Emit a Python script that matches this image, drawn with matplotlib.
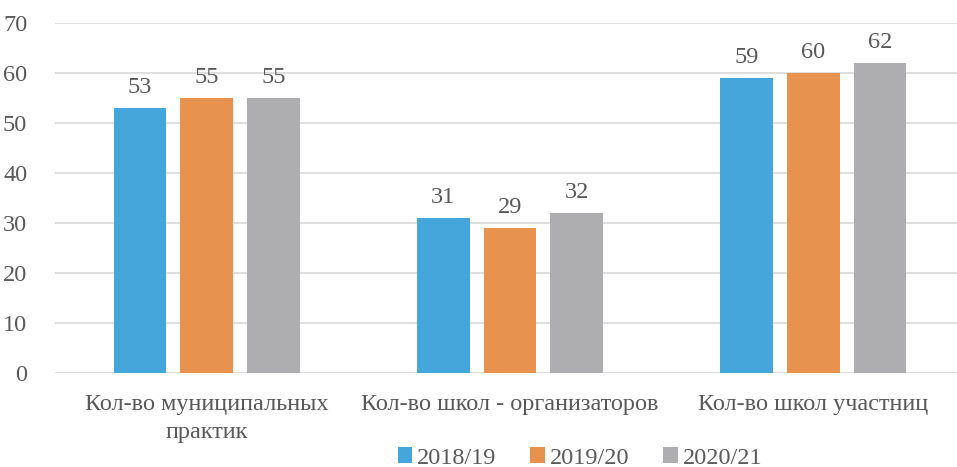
import numpy as np
import matplotlib
matplotlib.use("Agg")
import matplotlib.pyplot as plt

# Data
categories = ["Кол-во муниципальных\nпрактик", "Кол-во школ - организаторов", "Кол-во школ участниц"]
series_names = ["2018/19", "2019/20", "2020/21"]
values_1819 = [53, 31, 59]
values_1920 = [55, 29, 60]
values_2021 = [55, 32, 62]

COLORS = ["#44A6DB", "#E8924F", "#AEAEB1"]
TEXT_COLOR = "#595959"
GRID_COLOR = "#D9D9D9"
FONT_SIZE = 17.5

plt.rcParams["font.family"] = ["Liberation Serif", "DejaVu Serif"]

fig = plt.figure(figsize=(9.57, 4.67), dpi=100)
ax = fig.add_axes([55 / 957, 94 / 467, 1 - 55 / 957, 350 / 467])

x = np.arange(len(categories))
bar_w = 0.174
offset = 0.22
all_series = [values_1819, values_1920, values_2021]

for i, (name, vals) in enumerate(zip(series_names, all_series)):
    bars = ax.bar(x + (i - 1) * offset, vals, bar_w, color=COLORS[i], label=name, zorder=3)
    for b, v in zip(bars, vals):
        ax.text(b.get_x() + b.get_width() / 2, v + 2.0, str(v), ha="center", va="bottom",
                fontsize=FONT_SIZE, color=TEXT_COLOR)

ax.set_xlim(-0.5, 2.474)
ax.set_ylim(0, 70)
ax.set_yticks(np.arange(0, 71, 10))
ax.yaxis.grid(True, color=GRID_COLOR, linewidth=1.2, zorder=0)
ax.set_xticks(x)
ax.set_xticklabels(categories, fontsize=FONT_SIZE, color=TEXT_COLOR, linespacing=1.45,
                   multialignment="center")
ax.tick_params(axis="both", length=0, labelsize=FONT_SIZE, colors=TEXT_COLOR)
ax.tick_params(axis="y", pad=20)
ax.tick_params(axis="x", pad=15)
for s in ax.spines.values():
    s.set_visible(False)

fig.legend(loc="center", bbox_to_anchor=(580 / 957, 9 / 467), ncol=3, frameon=False,
           fontsize=FONT_SIZE, labelcolor=TEXT_COLOR, handlelength=0.6, handleheight=0.6,
           handletextpad=0.2, columnspacing=1.4, borderaxespad=0, borderpad=0)

fig.savefig("out.png", dpi=100)
